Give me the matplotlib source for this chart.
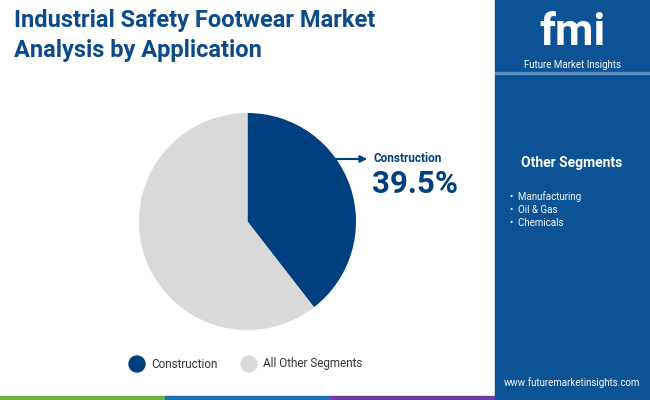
import matplotlib
matplotlib.use("Agg")
import matplotlib.pyplot as plt
from matplotlib.patches import Rectangle

categories = ["Construction", "All Other Segments"]
values = [39.5, 60.5]
colors = ["#003f7f", "#d9d9d9"]
other_segments = ["Manufacturing", "Oil & Gas", "Chemicals"]

W, H = 650, 400
fig = plt.figure(figsize=(W/100, H/100), dpi=100)
fig.patch.set_facecolor("white")

def fx(x): return x / W
def fy(y): return 1 - y / H

fig.patches.append(Rectangle((fx(495), 0), 1 - fx(495), 1, transform=fig.transFigure, color="#0b5394", zorder=0))
fig.patches.append(Rectangle((fx(495), fy(74)), 1 - fx(495), 0.004, transform=fig.transFigure, color="#5b8fc4", zorder=1))
strip = [(0, 165, "#6cb33f"), (165, 330, "#1f6fb5"), (330, 495, "#6b3fa0"), (495, 650, "#0b5394")]
for a, b, c in strip:
    fig.patches.append(Rectangle((fx(a), 0), fx(b - a), 4 / H, transform=fig.transFigure, color=c, zorder=2))

fig.text(fx(14), fy(21), "Industrial Safety Footwear Market", fontsize=17, fontweight="bold", color="#0b4a8b", family="Roboto", va="center")
fig.text(fx(14), fy(50), "Analysis by Application", fontsize=17, fontweight="bold", color="#0b4a8b", family="Roboto", va="center")

fig.text(fx(572), fy(33), "fmi", fontsize=32, fontweight="bold", color="white", ha="center", va="center", family="Roboto")
fig.text(fx(572), fy(65), "Future Market Insights", fontsize=7, color="white", ha="center", va="center", family="Roboto")

fig.text(fx(572), fy(163), "Other Segments", fontsize=10, fontweight="bold", color="white", ha="center", va="center", family="Roboto")
for i, s in enumerate(other_segments):
    fig.text(fx(510), fy(197 + i * 13), "•  " + s, fontsize=7, color="white", va="center", family="Roboto")
fig.text(fx(572), fy(383), "www.futuremarketinsights.com", fontsize=7, color="white", ha="center", va="center", family="Roboto")

ax = fig.add_axes([fx(139), fy(330), fx(217), 217 / H])
ax.pie(values, colors=colors, startangle=90, counterclock=False, radius=1)
ax.set_xlim(-1, 1); ax.set_ylim(-1, 1)
ax.set_aspect("equal")
ax.axis("off")

fig.add_artist(matplotlib.patches.FancyArrowPatch((fx(333), fy(159)), (fx(370), fy(159)), transform=fig.transFigure,
               arrowstyle="-|>", mutation_scale=10, color="#003f7f", lw=1.5))
fig.text(fx(373), fy(158), categories[0], fontsize=8.5, fontweight="bold", color="#003f7f", va="center", family="Roboto")
fig.text(fx(372), fy(184), f"{values[0]}%", fontsize=22.5, fontweight="bold", color="#003f7f", va="center", family="Roboto")

for x, c, lab in [(137, colors[0], categories[0]), (249, colors[1], categories[1])]:
    fig.add_artist(matplotlib.patches.Ellipse((fx(x), fy(364)), 16 / W, 16 / H, transform=fig.transFigure, color=c))
    fig.text(fx(x + 14), fy(364), lab, fontsize=8.5, color="#333333", va="center", family="Roboto")

fig.savefig("out.png", dpi=100)
